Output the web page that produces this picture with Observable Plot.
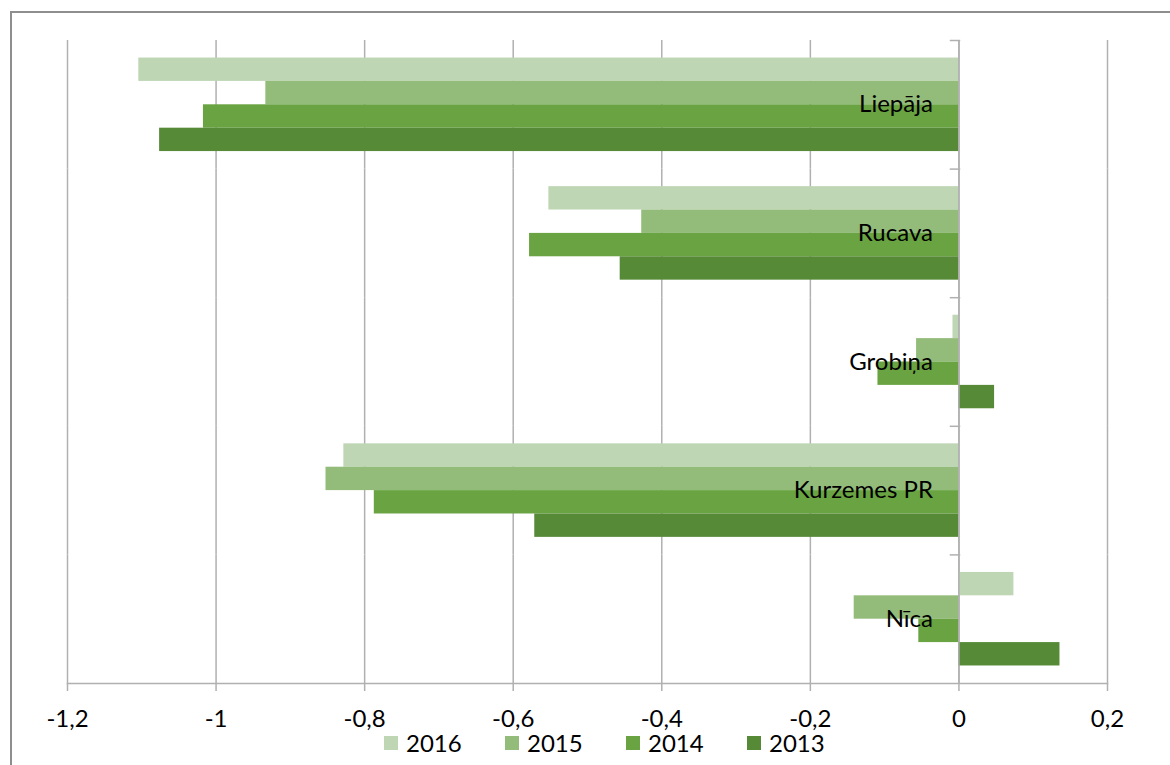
<!DOCTYPE html>
<html>
<head>
<meta charset="utf-8">
<script src="https://cdn.jsdelivr.net/npm/d3@7"></script>
<script src="https://cdn.jsdelivr.net/npm/@observablehq/plot@0.6"></script>
<style>
  body { margin: 0; background: #fff; font-family: Lato, sans-serif; }
  #wrap { position: relative; width: 1170px; height: 765px; overflow: hidden; background: #fff; }
  #border { position: absolute; left: 10px; top: 11px; width: 1300px; height: 900px;
            border-top: 2px solid #8e8e8e; border-left: 2px solid #8e8e8e; box-sizing: border-box; }
  #chart { position: absolute; left: 0; top: 0; }
  #legend { position: absolute; left: 384px; top: 731px; display: flex; align-items: center;
            font-size: 24px; color: #000; line-height: 24px; height: 24px; }
  .item { display: flex; align-items: center; width: 121px; }
  .sw { width: 14px; height: 14px; margin-right: 8px; flex: none; }
</style>
</head>
<body>
<div id="wrap">
  <div id="border"></div>
  <div id="chart"></div>
  <div id="legend"></div>
</div>
<script>
const categories = ["Liepāja", "Rucava", "Grobiņa", "Kurzemes PR", "Nīca"];
const years = ["2016", "2015", "2014", "2013"];
const v2016 = [-1.104, -0.552, -0.008, -0.828, 0.074];
const v2015 = [-0.933, -0.427, -0.057, -0.852, -0.141];
const v2014 = [-1.017, -0.578, -0.109, -0.787, -0.054];
const v2013 = [-1.076, -0.456, 0.048, -0.571, 0.136];
const colors = ["#bfd6b4", "#93bb7a", "#69a342", "#568a37"];
const xTicks = [-1.2, -1, -0.8, -0.6, -0.4, -0.2, 0, 0.2];

const series = [v2016, v2015, v2014, v2013];
const data = [];
categories.forEach((c, i) => {
  years.forEach((y, k) => data.push({cat: c, year: y, value: series[k][i]}));
});

const grid = "#b0b0b0";
const fmt = d => String(d).replace(".", ",");

const chart = Plot.plot({
  width: 1170,
  height: 732,
  marginLeft: 67,
  marginRight: 63,
  marginTop: 40,
  marginBottom: 49,
  style: {fontFamily: "Lato, sans-serif", background: "transparent", overflow: "visible"},
  x: {domain: [-1.2, 0.2], label: null},
  y: {domain: years, paddingInner: 0, paddingOuter: 0.75, round: false, axis: null},
  fy: {domain: categories, padding: 0, round: false, axis: null},
  color: {domain: years, range: colors},
  marks: [
    Plot.gridX(xTicks, {stroke: grid, strokeOpacity: 1, strokeWidth: 1.5}),
    Plot.barX(data, {fy: "cat", y: "year", x: "value", fill: "year"}),
    Plot.ruleX([0], {stroke: grid, strokeWidth: 1.5}),
    Plot.frame({anchor: "top", insetLeft: 883, insetRight: 148, stroke: grid, strokeWidth: 1.5}),
    Plot.frame({anchor: "bottom", facet: "super", stroke: grid, strokeWidth: 1.5}),
    Plot.axisX(xTicks, {tickSize: 8, tickPadding: 18, tickFormat: fmt, stroke: grid, strokeWidth: 1.5,
                        fill: "#000", fontSize: 24, label: null}),
    Plot.text(categories, {fy: d => d, x: () => 0, text: d => d, textAnchor: "end", dx: -26,
                           fontSize: 24, fill: "#000"})
  ]
});
document.getElementById("chart").appendChild(chart);

const legend = document.getElementById("legend");
years.forEach((y, k) => {
  const it = document.createElement("div");
  it.className = "item";
  const sw = document.createElement("div");
  sw.className = "sw";
  sw.style.background = colors[k];
  const t = document.createElement("span");
  t.textContent = y;
  it.appendChild(sw); it.appendChild(t);
  legend.appendChild(it);
});
</script>
</body>
</html>
